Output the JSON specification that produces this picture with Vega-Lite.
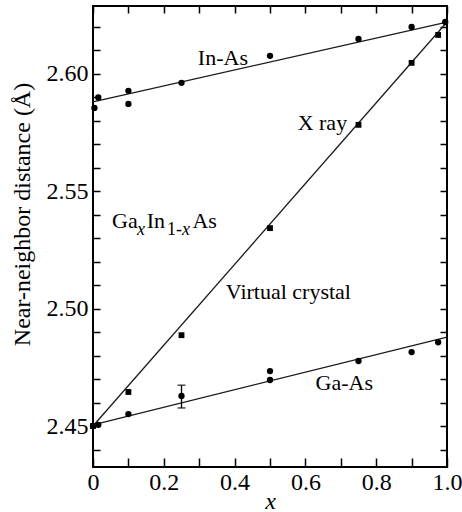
{
  "$schema": "https://vega.github.io/schema/vega-lite/v6.json",
  "width": 354,
  "height": 461,
  "autosize": {"type": "none"},
  "padding": {"left": 93, "top": 6, "right": 15, "bottom": 45},
  "background": "white",
  "config": {
    "view": {"stroke": "black", "strokeWidth": 2},
    "font": "Liberation Serif",
    "axis": {
      "domain": false,
      "grid": false,
      "tickColor": "black",
      "tickWidth": 1.5,
      "labelColor": "black",
      "labelFont": "Liberation Serif",
      "labelFontSize": 24,
      "titleFont": "Liberation Serif",
      "titleFontSize": 24,
      "titleFontWeight": "normal",
      "titleColor": "black",
      "labelFlush": false,
      "labelOverlap": false
    }
  },
  "datasets": {
    "lines": [
      {"series": "In-As", "x": 0, "y": 2.5881},
      {"series": "In-As", "x": 1, "y": 2.6221},
      {"series": "VC", "x": 0, "y": 2.45},
      {"series": "VC", "x": 1, "y": 2.6221},
      {"series": "Ga-As", "x": 0, "y": 2.4505},
      {"series": "Ga-As", "x": 1, "y": 2.4879}
    ],
    "circles": [
      {"series": "In-As", "x": 0.004, "y": 2.5855},
      {"series": "In-As", "x": 0.015, "y": 2.59},
      {"series": "In-As", "x": 0.1, "y": 2.5928},
      {"series": "In-As", "x": 0.1, "y": 2.5872},
      {"series": "In-As", "x": 0.25, "y": 2.5962},
      {"series": "In-As", "x": 0.5, "y": 2.6077},
      {"series": "In-As", "x": 0.75, "y": 2.6149},
      {"series": "In-As", "x": 0.9, "y": 2.62},
      {"series": "In-As", "x": 0.995, "y": 2.6221},
      {"series": "Ga-As", "x": 0.0, "y": 2.45},
      {"series": "Ga-As", "x": 0.015, "y": 2.4505},
      {"series": "Ga-As", "x": 0.1, "y": 2.4551},
      {"series": "Ga-As", "x": 0.25, "y": 2.4628},
      {"series": "Ga-As", "x": 0.5, "y": 2.4734},
      {"series": "Ga-As", "x": 0.5, "y": 2.4696},
      {"series": "Ga-As", "x": 0.75, "y": 2.4777},
      {"series": "Ga-As", "x": 0.9, "y": 2.4815},
      {"series": "Ga-As", "x": 0.975, "y": 2.4857}
    ],
    "squares": [
      {"x": 0.0, "y": 2.45},
      {"x": 0.1, "y": 2.4645},
      {"x": 0.25, "y": 2.4887},
      {"x": 0.5, "y": 2.5343},
      {"x": 0.75, "y": 2.5783},
      {"x": 0.9, "y": 2.6047},
      {"x": 0.975, "y": 2.6166}
    ],
    "err": [
      {"x": 0.25, "lo": 2.4577, "hi": 2.4674}
    ],
    "labels": [
      {"x": 0.367, "y": 2.6068, "text": "In-As"},
      {"x": 0.648, "y": 2.5792, "text": "X ray"},
      {"x": 0.552, "y": 2.5072, "text": "Virtual crystal"},
      {"x": 0.71, "y": 2.4685, "text": "Ga-As"}
    ],
    "formula": [
      {"x": 0.0537, "y": 2.5345, "text": "Ga"},
      {"x": 0.1517, "y": 2.5345, "text": "In"},
      {"x": 0.281, "y": 2.5345, "text": "As"}
    ],
    "subItalic": [
      {"x": 0.1243, "y": 2.5315, "text": "x"},
      {"x": 0.2514, "y": 2.5315, "text": "x"}
    ],
    "subUpright": [
      {"x": 0.209, "y": 2.5315, "text": "1-"}
    ]
  },
  "encoding": {
    "x": {"field": "x", "type": "quantitative", "scale": {"domain": [0, 1], "nice": false, "zero": false}, "axis": null},
    "y": {"field": "y", "type": "quantitative", "scale": {"domain": [2.43255, 2.62893], "nice": false, "zero": false}, "axis": null}
  },
  "layer": [
    {
      "data": {"name": "lines"},
      "mark": {"type": "line", "color": "#1a1a1a", "strokeWidth": 1.3},
      "encoding": {
        "x": {
          "field": "x", "type": "quantitative",
          "scale": {"domain": [0, 1], "nice": false, "zero": false},
          "axis": {
            "orient": "bottom",
            "values": [0, 0.1, 0.2, 0.3, 0.4, 0.5, 0.6, 0.7, 0.8, 0.9, 1.0],
            "labelExpr": "datum.value == 0 ? '0' : (round(datum.value * 10) % 2 == 0 ? format(datum.value, '.1f') : '')",
            "tickSize": -9,
            "labelPadding": 12,
            "title": "x",
            "titleFontStyle": "italic",
            "titleY": 41,
            "titleBaseline": "alphabetic"
          }
        },
        "y": {
          "field": "y", "type": "quantitative",
          "scale": {"domain": [2.43255, 2.62893], "nice": false, "zero": false},
          "axis": {
            "orient": "left",
            "values": [2.44, 2.45, 2.46, 2.47, 2.48, 2.49, 2.5, 2.51, 2.52, 2.53, 2.54, 2.55, 2.56, 2.57, 2.58, 2.59, 2.6, 2.61, 2.62],
            "labelExpr": "round(datum.value * 100) % 5 == 0 ? format(datum.value, '.2f') : ''",
            "tickSize": -7,
            "labelPadding": 12,
            "title": "Near-neighbor distance (Å)",
            "titleAngle": -90,
            "titleX": -71,
            "titleY": 208,
            "titleAlign": "center",
            "titleBaseline": "middle"
          }
        },
        "detail": {"field": "series", "type": "nominal"}
      }
    },
    {
      "data": {"name": "lines"},
      "mark": {"type": "point", "opacity": 0},
      "encoding": {
        "x": {
          "field": "x", "type": "quantitative",
          "scale": {"domain": [0, 1], "nice": false, "zero": false},
          "axis": {
            "orient": "top",
            "values": [0, 0.1, 0.2, 0.3, 0.4, 0.5, 0.6, 0.7, 0.8, 0.9, 1.0],
            "labels": false,
            "tickSize": -7,
            "title": null
          }
        },
        "y": {
          "field": "y", "type": "quantitative",
          "scale": {"domain": [2.43255, 2.62893], "nice": false, "zero": false},
          "axis": {
            "orient": "right",
            "values": [2.44, 2.45, 2.46, 2.47, 2.48, 2.49, 2.5, 2.51, 2.52, 2.53, 2.54, 2.55, 2.56, 2.57, 2.58, 2.59, 2.6, 2.61, 2.62],
            "labels": false,
            "tickSize": -7,
            "title": null
          }
        }
      }
    },
    {
      "data": {"name": "err"},
      "mark": {"type": "rule", "color": "black", "strokeWidth": 1.3},
      "encoding": {
        "y": {"field": "lo", "type": "quantitative", "scale": {"domain": [2.43255, 2.62893], "nice": false, "zero": false}, "axis": null},
        "y2": {"field": "hi"}
      }
    },
    {
      "data": {"name": "err"},
      "mark": {"type": "tick", "orient": "horizontal", "color": "black", "size": 8, "thickness": 1.5},
      "encoding": {
        "y": {"field": "lo", "type": "quantitative", "scale": {"domain": [2.43255, 2.62893], "nice": false, "zero": false}, "axis": null}
      }
    },
    {
      "data": {"name": "err"},
      "mark": {"type": "tick", "orient": "horizontal", "color": "black", "size": 8, "thickness": 1.5},
      "encoding": {
        "y": {"field": "hi", "type": "quantitative", "scale": {"domain": [2.43255, 2.62893], "nice": false, "zero": false}, "axis": null}
      }
    },
    {
      "data": {"name": "circles"},
      "mark": {"type": "circle", "color": "black", "opacity": 1, "size": 40}
    },
    {
      "data": {"name": "squares"},
      "mark": {"type": "square", "color": "black", "opacity": 1, "size": 34}
    },
    {
      "data": {"name": "labels"},
      "mark": {"type": "text", "font": "Liberation Serif", "fontSize": 22, "align": "center", "baseline": "middle", "color": "black"},
      "encoding": {"text": {"field": "text"}}
    },
    {
      "data": {"name": "formula"},
      "mark": {"type": "text", "font": "Liberation Serif", "fontSize": 22, "align": "left", "baseline": "alphabetic", "color": "black"},
      "encoding": {"text": {"field": "text"}}
    },
    {
      "data": {"name": "subItalic"},
      "mark": {"type": "text", "font": "Liberation Serif", "fontSize": 18, "fontStyle": "italic", "align": "left", "baseline": "alphabetic", "color": "black"},
      "encoding": {"text": {"field": "text"}}
    },
    {
      "data": {"name": "subUpright"},
      "mark": {"type": "text", "font": "Liberation Serif", "fontSize": 18, "align": "left", "baseline": "alphabetic", "color": "black"},
      "encoding": {"text": {"field": "text"}}
    }
  ],
  "resolve": {"axis": {"x": "independent", "y": "independent"}}
}
